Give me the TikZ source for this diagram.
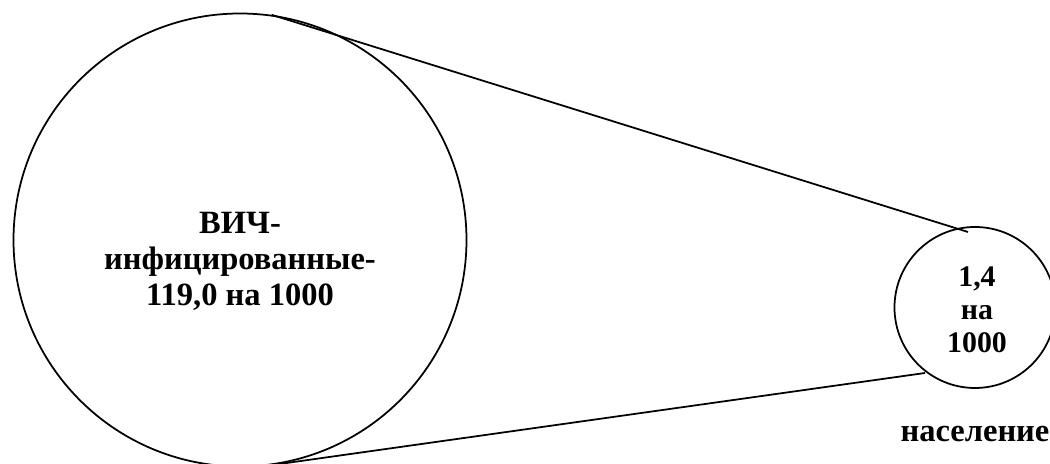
\documentclass[tikz,border=0pt]{standalone}
\usepackage{fontspec}
\setmainfont{Liberation Serif}
\usetikzlibrary{positioning}

\tikzset{
  ring/.style={draw, circle, line width=1pt, inner sep=0pt},
  captext/.style={font=\bfseries, align=center, inner sep=0pt},
  tie/.style={line width=1pt}
}

\begin{document}
\begin{tikzpicture}
  \useasboundingbox (0,0) rectangle (21,9.28);

  \node[ring, minimum size=9.06cm] (big) at (4.8,4.48) {};
  \node[ring, minimum size=3.22cm] (small) at (19.5,3.13) {};

  \node[captext, font=\bfseries\fontsize{18.5}{20.5}\selectfont] (bigtext) at (4.8,4.06)
    {ВИЧ-\\инфицированные-\\119,0 на 1000};
  \node[captext, font=\bfseries\fontsize{17}{18.7}\selectfont] (smalltext) at (19.54,3.08)
    {1,4\\на\\1000};
  \node[captext, font=\bfseries\fontsize{18.5}{20.5}\selectfont, below=0.74cm of small.south] (pop)
    {население};

  \coordinate (topend) at (19.36,4.64);
  \coordinate (botend) at (18.5,1.82);
  \draw[tie] (big.82) -- (topend);
  \draw[tie] (big.-83) -- (botend);
\end{tikzpicture}
\end{document}
